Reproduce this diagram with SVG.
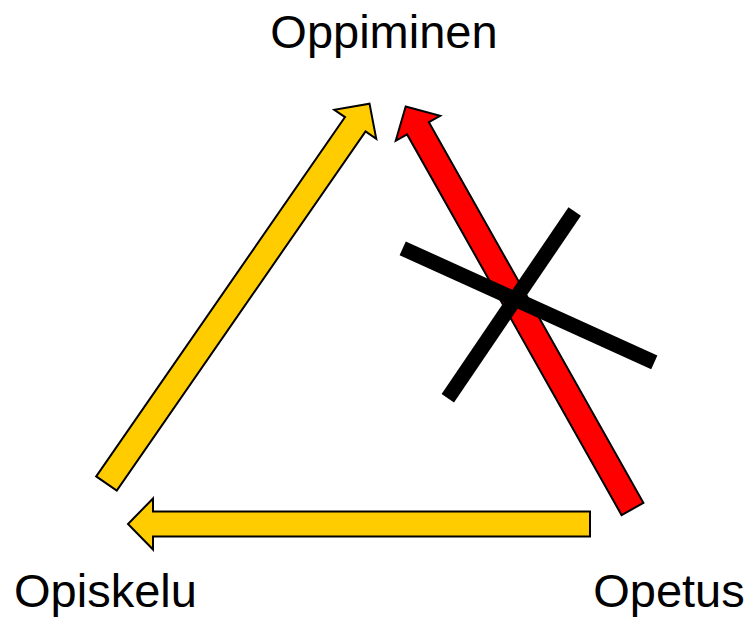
<svg xmlns="http://www.w3.org/2000/svg" width="748" height="617" viewBox="0 0 748 617">
<style>
.lbl{font-family:"Liberation Sans",Arial,sans-serif;font-size:47px;fill:#000;text-anchor:middle}
.arr{stroke:#000;stroke-width:2;stroke-linejoin:miter}
.yel{fill:#FFCC00}
.red{fill:#FF0000}
.x{stroke:#000;stroke-width:15;stroke-linecap:butt}
</style>
<defs>
<path id="arrowShape" d="M0,-12.5 H437 V-25.5 L462,0 L437,25.5 V12.5 H0 Z"/>
</defs>
<rect width="748" height="617" fill="#fff"/>
<g id="connectors">
<use href="#arrowShape" class="arr yel" transform="translate(590,524) rotate(180)"/>
<use href="#arrowShape" class="arr yel" transform="translate(106.5,483.5) rotate(-55.3)"/>
<use href="#arrowShape" class="arr red" transform="translate(632.5,509) rotate(-119.4)"/>
<g id="cross">
<line class="x" x1="402.7" y1="248.3" x2="654.3" y2="362.3"/>
<line class="x" x1="574.7" y1="211.5" x2="447.8" y2="398.2"/>
</g>
</g>
<g id="node-oppiminen"><text class="lbl" x="384" y="48">Oppiminen</text></g>
<g id="node-opiskelu"><text class="lbl" x="105.5" y="607">Opiskelu</text></g>
<g id="node-opetus"><text class="lbl" x="669" y="607">Opetus</text></g>
</svg>
